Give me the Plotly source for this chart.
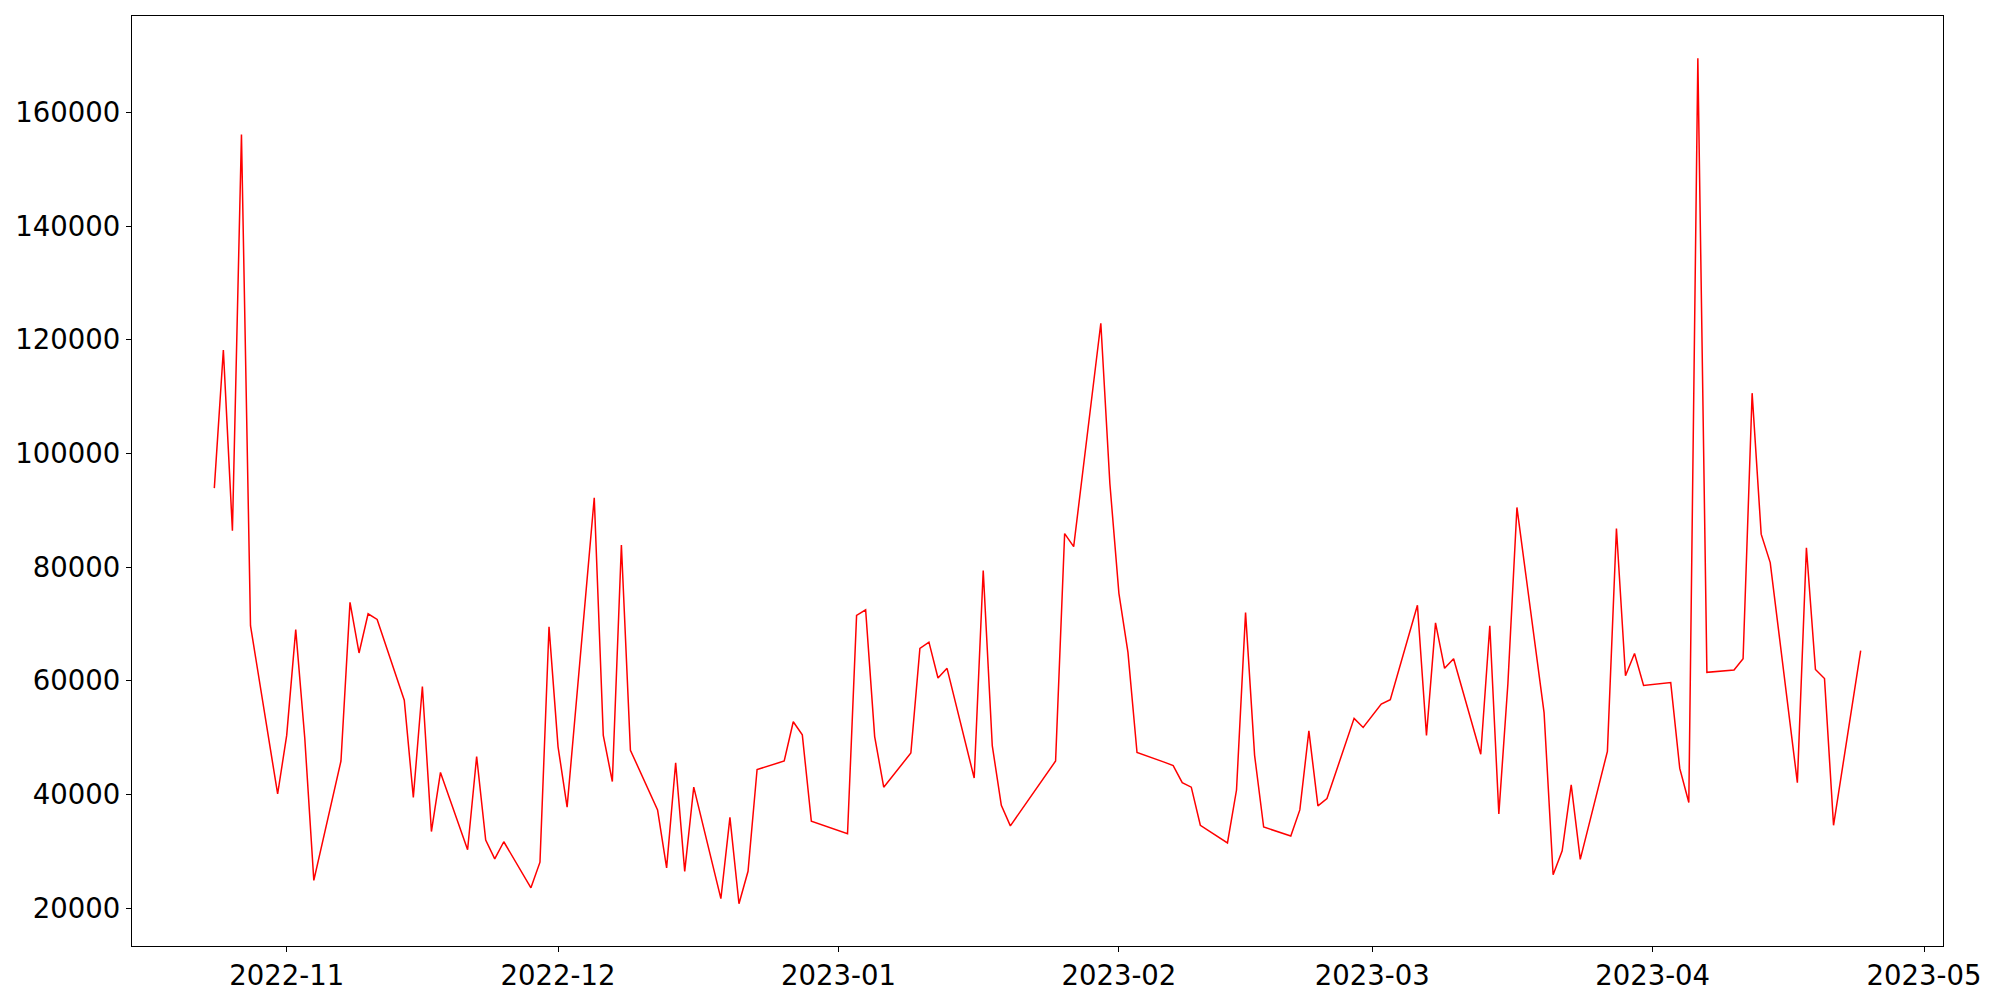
import pandas as pd
import plotly.graph_objects as go

# trading days (weekdays) with the market holidays that are missing from the series
start, end = "2022-10-24", "2023-04-24"
holidays = ["2022-12-30", "2023-01-23", "2023-01-24", "2023-03-01"]

oct_vals = [93900, 118200, 86400, 156100, 69700, 40100]
nov_vals = [50400, 69000, 49900, 24900,
            45900, 73800, 64900, 71800, 70800,
            56600, 39500, 59000, 33500, 43900,
            30300, 46700, 32000, 28700, 31700,
            23600, 28100, 69500]
dec_vals = [48400, 37800,
            92200, 50400, 42300, 83900, 47800,
            37300, 27100, 45600, 26500, 41300,
            21700, 36000, 20800, 26500, 44400,
            45900, 52800, 50500, 35300]
jan_vals = [33100, 71500, 72500, 50200, 41300,
            47300, 65700, 66800, 60500, 62200,
            42900, 79400, 48600, 38100, 34500,
            45900, 85900, 83600,
            122900, 94700]
feb_vals = [75400, 65000, 47400,
            45700, 45100, 42100, 41300, 34600,
            31500, 40800, 72000, 46900, 34300,
            32700, 37300, 51200, 38000, 39300,
            53400, 51800]
mar_vals = [55900, 56700,
            73300, 50400, 70200, 62200, 63900,
            47100, 69700, 36600, 59500, 90500,
            54400, 25900, 30100, 41700, 28600,
            47600, 86800, 60900, 64800, 59200]
apr_vals = [59700, 44600, 38600, 169500, 61500,
            61900, 63900, 110600, 85800, 80800,
            42100, 83400, 62000, 60400, 34600,
            65300]

month_ticks = ["2022-11-01", "2022-12-01", "2023-01-01", "2023-02-01",
               "2023-03-01", "2023-04-01", "2023-05-01"]
month_labels = ["2022-11", "2022-12", "2023-01", "2023-02", "2023-03", "2023-04", "2023-05"]
y_ticks = [20000, 40000, 60000, 80000, 100000, 120000, 140000, 160000]

dates = pd.bdate_range(start, end)
dates = dates[~dates.isin(pd.to_datetime(holidays))]
values = oct_vals + nov_vals + dec_vals + jan_vals + feb_vals + mar_vals + apr_vals

df = pd.DataFrame({"date": dates, "value": values})

# matplotlib-like 5% margins
x_pad = (df["date"].max() - df["date"].min()) * 0.05
y_pad = (df["value"].max() - df["value"].min()) * 0.05
x_range = [str(df["date"].min() - x_pad), str(df["date"].max() + x_pad)]
y_range = [df["value"].min() - y_pad, df["value"].max() + y_pad]

fig = go.Figure(go.Scatter(x=df["date"], y=df["value"], mode="lines",
                           line=dict(color="red", width=1.5)))

axis_style = dict(showline=True, mirror=True, linecolor="black", linewidth=1.3,
                  ticks="outside", ticklen=5, tickwidth=1.3, tickcolor="black",
                  showgrid=False, zeroline=False)

# page body adds an 8px margin, so the figure is 8px smaller each way
fig.update_layout(width=1992, height=992,
                  margin=dict(l=122, r=57, t=7, b=54),
                  paper_bgcolor="white", plot_bgcolor="white",
                  font=dict(family="DejaVu Sans", size=27.5, color="black"),
                  showlegend=False)
fig.update_xaxes(range=x_range, tickvals=month_ticks, ticktext=month_labels, **axis_style)
fig.update_yaxes(range=y_range, tickvals=y_ticks, ticktext=[str(v) for v in y_ticks], **axis_style)

fig.write_html("out.html")
